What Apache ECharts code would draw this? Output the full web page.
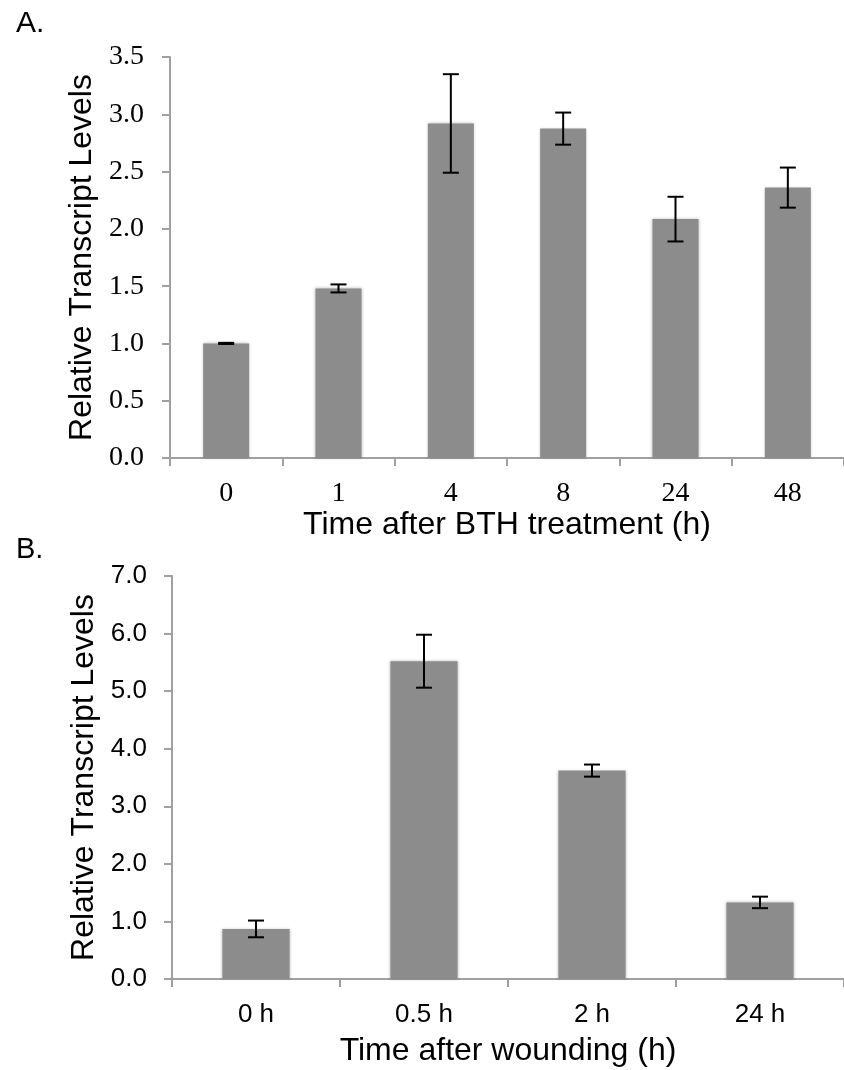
<!DOCTYPE html>
<html>
<head>
<meta charset="utf-8">
<script src="https://cdn.jsdelivr.net/npm/echarts@6/dist/echarts.min.js"></script>
<style>
html,body{margin:0;padding:0;background:#fff;}
#c{width:844px;height:1070px;}
</style>
</head>
<body>
<div id="c"></div>
<script>
// Panel A data
var catsA = ['0', '1', '4', '8', '24', '48'];
var valsA = [1.00, 1.48, 2.92, 2.875, 2.085, 2.36];
var errA = [0.005, 0.035, 0.43, 0.14, 0.195, 0.175];
var ticksA = [0, 0.5, 1.0, 1.5, 2.0, 2.5, 3.0, 3.5];

// Panel B data
var catsB = ['0 h', '0.5 h', '2 h', '24 h'];
var valsB = [0.87, 5.52, 3.62, 1.33];
var errB = [0.145, 0.46, 0.105, 0.10];
var ticksB = [0, 1, 2, 3, 4, 5, 6, 7];

function errData(vals, errs) {
  return vals.map(function (v, i) { return [i, v - errs[i], v + errs[i]]; });
}
function renderErr(params, api) {
  var i = api.value(0);
  var lo = api.coord([i, api.value(1)]);
  var hi = api.coord([i, api.value(2)]);
  var w = 8;
  var st = { stroke: '#000', lineWidth: 2 };
  return {
    type: 'group',
    children: [
      { type: 'line', shape: { x1: hi[0], y1: hi[1], x2: lo[0], y2: lo[1] }, style: st },
      { type: 'line', shape: { x1: hi[0] - w, y1: hi[1], x2: hi[0] + w, y2: hi[1] }, style: st },
      { type: 'line', shape: { x1: lo[0] - w, y1: lo[1], x2: lo[0] + w, y2: lo[1] }, style: st }
    ]
  };
}

var axisGray = '#a0a0a0';
var sans = 'Liberation Sans, Arial, sans-serif';
var serif = 'Liberation Serif, Times New Roman, serif';

var chart = echarts.init(document.getElementById('c'), null, { renderer: 'canvas' });
chart.setOption({
  animation: false,
  backgroundColor: '#fff',
  title: [
    { text: 'A.', left: 11, top: 4, textStyle: { fontFamily: sans, fontSize: 30, fontWeight: 'normal', color: '#000' } },
    { text: 'B.', left: 11, top: 530, textStyle: { fontFamily: sans, fontSize: 29, fontWeight: 'normal', color: '#000' } }
  ],
  grid: [
    { left: 170, top: 57, right: -4, height: 401 },
    { left: 172, top: 576, right: -4, height: 403 }
  ],
  xAxis: [
    {
      type: 'category', gridIndex: 0, data: catsA,
      name: 'Time after BTH treatment (h)', nameLocation: 'middle', nameGap: 51,
      nameTextStyle: { fontFamily: sans, fontSize: 32, color: '#000', verticalAlign: 'top' },
      axisLine: { lineStyle: { color: axisGray, width: 2 } },
      axisTick: { show: true, length: 8, lineStyle: { color: axisGray, width: 2 } },
      axisLabel: { fontFamily: serif, fontSize: 28, color: '#000', margin: 22 }
    },
    {
      type: 'category', gridIndex: 1, data: catsB,
      name: 'Time after wounding (h)', nameLocation: 'middle', nameGap: 56,
      nameTextStyle: { fontFamily: sans, fontSize: 32, color: '#000', verticalAlign: 'top' },
      axisLine: { lineStyle: { color: axisGray, width: 2 } },
      axisTick: { show: true, length: 8, lineStyle: { color: axisGray, width: 2 } },
      axisLabel: { fontFamily: sans, fontSize: 26, color: '#000', margin: 23 }
    }
  ],
  yAxis: [
    {
      type: 'value', gridIndex: 0, min: ticksA[0], max: ticksA[ticksA.length - 1], interval: 0.5,
      name: 'Relative Transcript Levels', nameLocation: 'middle', nameGap: 69, nameRotate: 90,
      nameTextStyle: { fontFamily: sans, fontSize: 32, color: '#000' },
      axisLine: { show: true, lineStyle: { color: axisGray, width: 2 } },
      axisTick: { show: true, length: 8, lineStyle: { color: axisGray, width: 2 } },
      splitLine: { show: false },
      axisLabel: { fontFamily: serif, fontSize: 28, color: '#000', margin: 26, formatter: function (v) { return v.toFixed(1); } }
    },
    {
      type: 'value', gridIndex: 1, min: ticksB[0], max: ticksB[ticksB.length - 1], interval: 1,
      name: 'Relative Transcript Levels', nameLocation: 'middle', nameGap: 70, nameRotate: 90,
      nameTextStyle: { fontFamily: sans, fontSize: 32, color: '#000' },
      axisLine: { show: true, lineStyle: { color: axisGray, width: 2 } },
      axisTick: { show: true, length: 8, lineStyle: { color: axisGray, width: 2 } },
      splitLine: { show: false },
      axisLabel: { fontFamily: sans, fontSize: 26, color: '#000', margin: 25, formatter: function (v) { return v.toFixed(1); } }
    }
  ],
  series: [
    {
      type: 'bar', xAxisIndex: 0, yAxisIndex: 0, data: valsA, barWidth: '41%',
      itemStyle: { color: '#8c8c8c', shadowBlur: 3, shadowColor: 'rgba(0,0,0,0.25)' }
    },
    {
      type: 'custom', xAxisIndex: 0, yAxisIndex: 0, data: errData(valsA, errA),
      renderItem: renderErr, z: 5
    },
    {
      type: 'bar', xAxisIndex: 1, yAxisIndex: 1, data: valsB, barWidth: '40%',
      itemStyle: { color: '#8c8c8c', shadowBlur: 3, shadowColor: 'rgba(0,0,0,0.25)' }
    },
    {
      type: 'custom', xAxisIndex: 1, yAxisIndex: 1, data: errData(valsB, errB),
      renderItem: renderErr, z: 5
    }
  ]
});
</script>
</body>
</html>
